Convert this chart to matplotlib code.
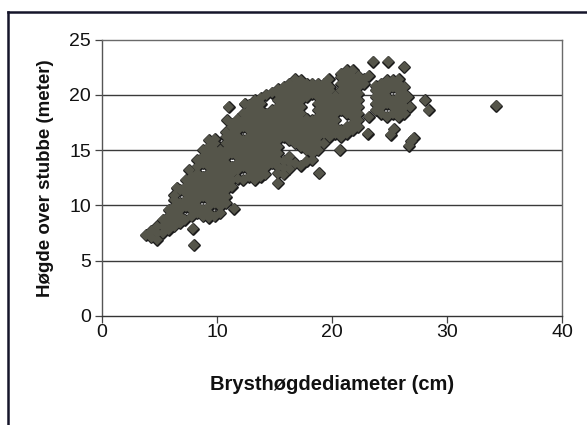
import matplotlib
matplotlib.use("Agg")
import matplotlib.pyplot as plt
from matplotlib.lines import Line2D

# Diameter at breast height (cm) and height above stump (m)
diameter_cm = [
    3.8,
    4.3, 4.3,
    4.8, 4.8, 4.8,
    5.3, 5.3, 5.3,
    5.8, 5.8, 5.8, 5.8,
    6.3, 6.3, 6.3, 6.3, 6.3, 6.3, 6.5,
    6.8, 6.8, 6.8, 6.8, 6.8,
    7.2, 7.3, 7.3, 7.3, 7.3, 7.3,
    7.8, 7.8, 7.8, 7.8, 7.8, 7.8, 7.8, 7.6, 7.9, 8.0,
    8.3, 8.3, 8.3, 8.3, 8.3, 8.3, 8.3, 8.3, 8.3,
    8.8, 8.8, 8.8, 8.8, 8.8, 8.8, 8.8, 8.8, 8.8,
    9.3, 9.3, 9.3, 9.3, 9.3, 9.3, 9.3, 9.3, 9.3, 9.3, 9.3, 9.3, 9.3,
    9.8, 9.8, 9.8, 9.8, 9.8, 9.8, 9.8, 9.8, 9.8, 9.8, 9.8, 9.8,
    10.3, 10.3, 10.3, 10.3, 10.3, 10.3, 10.3, 10.3, 10.3, 10.3, 10.3,
    10.8, 10.8, 10.8, 10.8, 10.8, 10.8, 10.8, 10.8, 10.8, 10.8, 10.8, 10.8, 10.9,
    11.3, 11.3, 11.3, 11.3, 11.3, 11.3, 11.3, 11.3, 11.3, 11.3, 11.0, 11.5,
    11.8, 11.8, 11.8, 11.8, 11.8, 11.8, 11.8, 11.8, 11.8, 11.8,
    12.3, 12.3, 12.3, 12.3, 12.3, 12.3, 12.3, 12.3, 12.3, 12.4,
    12.8, 12.8, 12.8, 12.8, 12.8, 12.8, 12.8, 12.8, 12.8, 12.8, 12.8, 12.8,
    13.3, 13.3, 13.3, 13.3, 13.3, 13.3, 13.3, 13.3, 13.3, 13.3, 13.3, 13.3, 13.3,
    13.8, 13.8, 13.8, 13.8, 13.8, 13.8, 13.8, 13.8, 13.8, 13.8, 13.8, 13.8, 13.8,
    14.2, 14.3, 14.3, 14.3, 14.3, 14.3, 14.3, 14.3, 14.3, 14.3, 14.3,
    14.8, 14.8, 14.8, 14.8, 14.8, 14.8, 14.8, 14.8, 14.8, 14.8,
    15.3, 15.3, 15.3, 15.3, 15.3, 15.3, 15.3, 15.3, 15.3, 15.3, 15.3, 15.3, 15.3, 15.3, 15.3,
    15.8, 15.8, 15.8, 15.8, 15.8, 15.8, 15.8, 15.8, 15.8, 15.8, 15.8, 15.8,
    16.3, 16.3, 16.3, 16.3, 16.3, 16.3, 16.3, 16.3, 16.3, 16.3, 16.3, 16.3, 16.3,
    16.8, 16.8, 16.8, 16.8, 16.8, 16.8, 16.8, 16.8, 16.8, 16.8, 16.8, 16.8,
    17.3, 17.3, 17.3, 17.3, 17.3, 17.3, 17.3, 17.3, 17.3, 17.3, 17.3, 17.3,
    17.8, 17.8, 17.8, 17.8, 17.8, 17.8, 17.8, 17.8, 17.8, 17.8,
    18.3, 18.3, 18.3, 18.3, 18.3, 18.3, 18.3, 18.3, 18.3, 18.3,
    18.9, 18.8, 18.8, 18.8, 18.8, 18.8, 18.8, 18.8, 18.8, 18.8, 18.8, 18.8,
    19.3, 19.3, 19.3, 19.3, 19.3, 19.3, 19.3, 19.3, 19.3, 19.3,
    19.8, 19.8, 19.8, 19.8, 19.8, 19.8, 19.8, 19.8, 19.8, 19.7,
    20.3, 20.3, 20.3, 20.3, 20.3, 20.3, 20.3,
    20.8, 20.8, 20.8, 20.8, 20.8, 20.8, 20.8, 20.8, 20.8, 20.7,
    21.3, 21.3, 21.3, 21.3, 21.3, 21.3, 21.3, 21.3, 21.3, 21.3,
    21.8, 21.8, 21.8, 21.8, 21.8, 21.8, 21.8, 21.8, 21.8, 21.8,
    22.3, 22.3, 22.3, 22.3, 22.3, 22.3, 22.3, 22.3, 22.3,
    22.8, 22.8,
    23.1, 23.2, 23.2,
    23.8, 23.8, 23.8, 23.8, 23.8, 23.6,
    24.3, 24.3, 24.3, 24.3, 24.3, 24.3,
    24.8, 24.8, 24.8, 24.8, 24.8, 24.8, 24.9,
    25.3, 25.3, 25.3, 25.3, 25.3, 25.1, 25.4,
    25.8, 25.8, 25.8, 25.8, 25.8, 25.8, 25.8,
    26.3, 26.3, 26.3, 26.3, 26.3, 26.3,
    26.6, 26.8,
    26.7, 26.9, 27.1,
    28.1, 28.4, 34.3,
]

height_m = [
    7.3,
    7.1, 7.7,
    6.9, 7.5, 8.1,
    7.5, 8.1, 8.7,
    7.8, 8.4, 9.0, 9.6,
    8.1, 8.7, 9.3, 9.9, 10.5, 10.9, 11.6,
    8.4, 9.0, 9.6, 10.2, 11.4,
    8.7, 9.9, 10.5, 11.1, 11.7, 12.3,
    9.0, 9.6, 10.2, 10.8, 11.4, 12.0, 12.6, 13.2, 7.9, 6.4,
    9.3, 9.9, 10.5, 11.1, 11.7, 12.3, 12.9, 13.5, 14.1,
    9.0, 9.6, 10.8, 11.4, 12.0, 12.6, 13.8, 14.4, 15.0,
    8.9, 9.3, 9.9, 10.5, 11.1, 11.7, 12.3, 12.9, 13.5, 14.1, 14.7, 15.3, 15.9,
    9.0, 10.2, 10.8, 11.4, 12.0, 12.6, 13.2, 13.8, 14.4, 15.0, 15.6, 16.0,
    9.3, 9.9, 10.5, 11.1, 11.7, 12.3, 12.9, 13.5, 14.1, 14.7, 15.0,
    10.2, 10.8, 11.4, 12.0, 12.6, 13.2, 13.8, 14.4, 15.0, 15.6, 16.2, 16.6, 17.7,
    11.7, 12.3, 12.9, 13.5, 14.7, 15.3, 15.9, 16.5, 17.1, 17.4, 18.9, 9.7,
    12.4, 13.2, 13.8, 14.4, 15.0, 15.6, 16.2, 16.8, 17.4, 17.8,
    12.3, 13.5, 14.1, 14.7, 15.3, 15.9, 17.1, 17.7, 18.3, 19.2,
    12.6, 13.2, 13.8, 14.4, 15.0, 15.6, 16.2, 16.8, 17.4, 18.0, 18.6, 19.1,
    12.3, 12.9, 13.5, 14.1, 14.7, 15.3, 15.9, 16.5, 17.1, 17.7, 18.3, 18.9, 19.5,
    12.6, 13.2, 13.8, 14.4, 15.0, 15.6, 16.2, 16.8, 17.4, 18.0, 18.6, 19.2, 19.7,
    12.8, 13.5, 14.1, 14.7, 15.3, 15.9, 16.5, 17.1, 17.7, 18.3, 20.0,
    13.8, 14.4, 15.0, 15.6, 16.2, 16.8, 17.4, 18.0, 18.6, 20.2,
    12.0, 12.9, 13.5, 14.1, 14.7, 15.3, 15.9, 16.5, 17.1, 17.7, 18.3, 18.9, 19.5, 20.1, 20.5,
    12.8, 13.4, 14.0, 16.2, 16.8, 17.4, 18.0, 18.6, 19.2, 19.8, 20.4, 20.7,
    13.3, 13.9, 14.4, 15.9, 16.5, 17.1, 17.7, 18.3, 18.9, 19.5, 20.1, 20.7, 21.0,
    13.8, 15.6, 16.2, 16.8, 17.4, 18.0, 18.6, 19.2, 19.8, 20.4, 21.0, 21.4,
    13.6, 15.3, 15.9, 16.5, 17.1, 17.7, 18.3, 18.9, 19.5, 20.1, 20.7, 21.3,
    14.0, 15.0, 15.6, 16.2, 16.8, 17.4, 17.8, 19.8, 20.4, 21.0,
    14.1, 14.7, 15.3, 15.9, 16.5, 17.1, 17.7, 20.1, 20.7, 21.0,
    12.9, 15.0, 15.6, 16.2, 16.8, 17.4, 18.0, 18.6, 19.2, 19.8, 20.4, 21.0,
    15.6, 16.5, 17.1, 17.7, 18.3, 18.9, 19.5, 20.1, 20.7, 21.0,
    16.2, 16.8, 17.4, 18.0, 18.6, 19.2, 19.8, 20.4, 20.7, 21.4,
    16.5, 17.1, 17.7, 18.3, 18.9, 19.5, 19.9,
    16.2, 16.8, 18.6, 19.2, 19.8, 20.4, 21.0, 21.6, 21.9, 15.0,
    16.5, 17.1, 18.3, 18.9, 19.5, 20.1, 20.7, 21.3, 21.9, 22.2,
    16.8, 17.4, 18.0, 18.6, 19.2, 19.8, 20.4, 21.0, 21.6, 22.2,
    17.1, 17.7, 18.3, 18.9, 19.5, 20.1, 20.7, 21.3, 21.7,
    21.0, 21.4,
    16.5, 18.0, 21.7,
    18.6, 19.2, 19.8, 20.4, 20.8, 23.0,
    18.3, 18.9, 19.5, 20.1, 20.7, 21.0,
    18.0, 19.2, 19.8, 20.4, 21.0, 21.3, 23.0,
    18.3, 18.9, 19.5, 20.7, 21.3, 16.4, 16.9,
    18.0, 18.6, 19.2, 19.8, 20.4, 21.0, 21.4,
    18.3, 18.9, 19.5, 20.1, 20.7, 22.5,
    19.8, 18.9,
    15.4, 15.8, 16.1,
    19.5, 18.6, 19.0,
]

x_ticks = [0, 10, 20, 30, 40]
y_ticks = [0, 5, 10, 15, 20, 25]
x_label = "Brysthøgdediameter (cm)"
y_label = "Høgde over stubbe (meter)"

assert len(diameter_cm) == len(height_m), (len(diameter_cm), len(height_m))

plt.rcParams['font.family'] = ['Liberation Sans', 'DejaVu Sans']

fig = plt.figure(figsize=(5.87, 4.25), dpi=100)
fig.patch.set_facecolor('white')
ax = fig.add_axes([102 / 587, 1 - 316 / 425, 460 / 587, 276.5 / 425])

ax.set_xlim(0, 40)
ax.set_ylim(0, 25)

for yv in y_ticks[1:-1]:
    ax.axhline(yv, color='#3a3a3a', lw=1.0, zorder=1)

# outline layer then slightly larger fill layer (merged outline like the original)
ax.scatter(diameter_cm, height_m, marker='D', s=28, facecolor='#55554a',
           edgecolor='#1c1c1c', linewidths=1.8, zorder=3)
ax.scatter(diameter_cm, height_m, marker='D', s=32, facecolor='#55554a',
           edgecolor='none', zorder=4)

ax.set_xticks(x_ticks)
ax.set_yticks(y_ticks)
ax.tick_params(axis='both', direction='out', length=5, width=0.9,
               color='#444444', labelsize=14, labelcolor='#111111')
ax.tick_params(axis='x', pad=1)
ax.tick_params(axis='y', pad=3)

for side in ['top', 'right']:
    ax.spines[side].set_color('#6a6a6a')
    ax.spines[side].set_linewidth(1.0)
ax.spines['left'].set_color('#555555')
ax.spines['bottom'].set_color('#333333')
ax.spines['left'].set_linewidth(1.0)
ax.spines['bottom'].set_linewidth(1.0)

ax.set_xlabel(x_label, fontsize=14.5, fontweight='bold', color='#111111', labelpad=24)
ax.set_ylabel(y_label, fontsize=13.5, fontweight='bold', color='#111111', labelpad=11)

# outer chart border (left and top visible)
fig.add_artist(Line2D([7.5 / 587, 7.5 / 587], [0, 1 - 11.5 / 425],
                      transform=fig.transFigure, color='#15152a', lw=1.8))
fig.add_artist(Line2D([7.5 / 587, 1], [1 - 11.5 / 425, 1 - 11.5 / 425],
                      transform=fig.transFigure, color='#15152a', lw=1.8))

fig.savefig('out.png', dpi=100, facecolor='white')
